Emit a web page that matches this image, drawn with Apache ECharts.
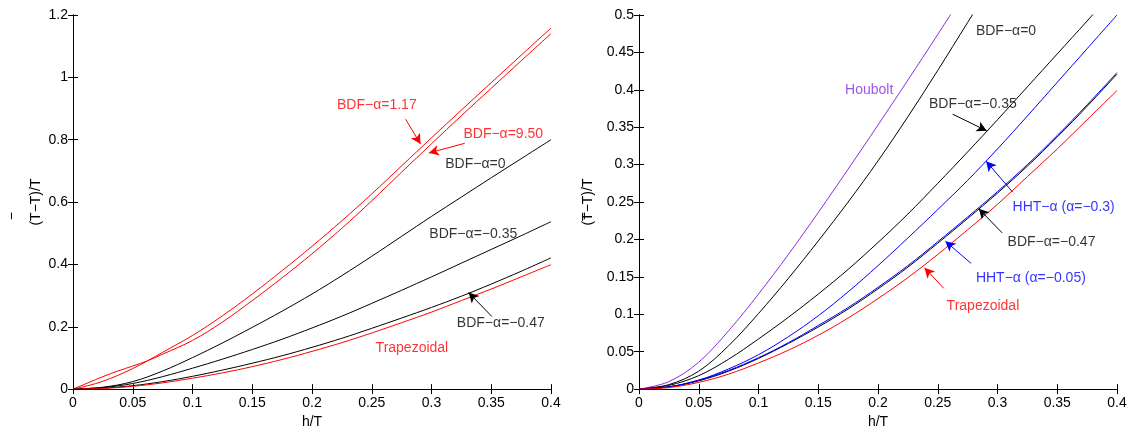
<!DOCTYPE html>
<html>
<head>
<meta charset="utf-8">
<script src="https://cdn.jsdelivr.net/npm/echarts@6/dist/echarts.min.js"></script>
<style>html,body{margin:0;padding:0;background:#fff}#c{width:1131px;height:434px}</style>
</head>
<body>
<div id="c"></div>
<script>
// ---- data ----
const xs = [0,0.025,0.05,0.075,0.1,0.125,0.15,0.175,0.2,0.225,0.25,0.275,0.3,0.325,0.35,0.375,0.4];
const bdf0   = [0,0.006,0.024,0.058,0.101,0.148,0.198,0.250,0.305,0.364,0.426,0.490,0.554,0.616,0.678,0.739,0.800];
const bdf035 = [0,0.005,0.018,0.040,0.067,0.096,0.127,0.160,0.196,0.234,0.275,0.317,0.360,0.404,0.448,0.492,0.537];
const bdf047 = [0,0.003,0.011,0.024,0.041,0.061,0.083,0.107,0.134,0.163,0.195,0.228,0.262,0.298,0.337,0.378,0.421];
const trap   = [0,0.002,0.009,0.020,0.035,0.052,0.072,0.095,0.121,0.149,0.180,0.213,0.247,0.284,0.321,0.360,0.399];
const hht03  = [0,0.003,0.012,0.027,0.046,0.070,0.098,0.130,0.165,0.202,0.240,0.279,0.321,0.365,0.410,0.455,0.500];
const hht005 = [0,0.003,0.012,0.025,0.042,0.062,0.085,0.109,0.136,0.165,0.197,0.230,0.264,0.300,0.339,0.380,0.423];
const xsHoubolt = [0,0.025,0.05,0.075,0.1,0.125,0.15,0.175,0.2,0.225,0.25,0.275];
const houbolt = [0,0.010,0.036,0.078,0.127,0.180,0.236,0.294,0.353,0.413,0.474,0.536];
const xsRed = [0,0.0125,0.025,0.0375,0.05,0.0625,0.075,0.1,0.125,0.15,0.175,0.2,0.225,0.25,0.275,0.3,0.325,0.35,0.375,0.4];
const bdf117 = [0,0.011,0.025,0.044,0.066,0.091,0.118,0.172,0.235,0.305,0.380,0.458,0.540,0.626,0.716,0.806,0.895,0.983,1.071,1.158];
const bdf950 = [0,0.020,0.040,0.058,0.074,0.091,0.112,0.156,0.215,0.284,0.357,0.434,0.516,0.604,0.696,0.787,0.877,0.965,1.053,1.140];

const xTicks = {min:0, max:0.4, interval:0.05};
const yTicksLeft = {min:0, max:1.2, interval:0.2};
const yTicksRight = {min:0, max:0.5, interval:0.05};

// ---- annotations (data coordinates) ----
const RED='#ff0000', BLACK='#000000', BLUE='#0000ff', PURPLE='#8a2be2';
const leftLabels = [
  ['BDF\u2212\u03b1=1.17', 0.2205, 0.9106, RED],
  ['BDF\u2212\u03b1=9.50', 0.3263, 0.8181, RED],
  ['BDF\u2212\u03b1=0', 0.3111, 0.7201, BLACK],
  ['BDF\u2212\u03b1=\u22120.35', 0.2978, 0.4966, BLACK],
  ['BDF\u2212\u03b1=\u22120.47', 0.3208, 0.2116, BLACK],
  ['Trapezoidal', 0.2528, 0.1318, RED]
];
const leftArrows = [
  [0.2783,0.8659,0.2908,0.7861,RED],
  [0.3278,0.7884,0.2978,0.7574,RED],
  [0.3505,0.2330,0.3311,0.3096,BLACK]
];
const rightLabels = [
  ['Houbolt', 0.1720, 0.3993, PURPLE],
  ['BDF\u2212\u03b1=0', 0.2815, 0.4782, BLACK],
  ['BDF\u2212\u03b1=\u22120.35', 0.2422, 0.3803, BLACK],
  ['HHT\u2212\u03b1 (\u03b1=\u22120.3)', 0.3122, 0.2434, BLUE],
  ['BDF\u2212\u03b1=\u22120.47', 0.3080, 0.1968, BLACK],
  ['HHT\u2212\u03b1 (\u03b1=\u22120.05)', 0.2815, 0.1480, BLUE],
  ['Trapezoidal', 0.2570, 0.1112, RED]
];
const rightArrows = [
  [0.2625,0.3674,0.2910,0.3452,BLACK],
  [0.3127,0.2633,0.2905,0.3045,BLUE],
  [0.3039,0.2088,0.2843,0.2411,BLACK],
  [0.2779,0.1680,0.2564,0.1976,BLUE],
  [0.2550,0.1347,0.2389,0.1622,RED]
];

// ---- build chart ----
const FONT = 'Liberation Sans, Arial, sans-serif';
const fmt = v => String(parseFloat(v.toFixed(3)));
function pairs(x, y){ return y.map((v,i)=>[x[i], v]); }
function line(x, y, color, gi){
  return {type:'line', xAxisIndex:gi*2, yAxisIndex:gi*2, data:pairs(x,y), smooth:0.35,
    symbol:'none', showSymbol:false, lineStyle:{color:color, width:1}, itemStyle:{color:color},
    silent:true, animation:false, clip:true, z:2};
}
function annot(labels, arrows, gi){
  return {type:'scatter', xAxisIndex:gi*2, yAxisIndex:gi*2, symbolSize:1, silent:true, animation:false,
    itemStyle:{color:'rgba(0,0,0,0)'}, z:5,
    data: labels.map(l=>({value:[l[1],l[2]], label:{show:true, position:'right', distance:0,
      formatter:l[0], color:l[3], fontFamily:FONT, fontSize:14}})),
    markLine:{silent:true, animation:false, symbol:['none','arrow'], symbolSize:[8,10],
      label:{show:false},
      data: arrows.map(a=>[{coord:[a[0],a[1]], lineStyle:{color:a[4], width:1, type:'solid'}, itemStyle:{color:a[4]}},
                           {coord:[a[2],a[3]], itemStyle:{color:a[4]}}])}
  };
}
const axisCommon = {axisLine:{show:true, lineStyle:{color:'#000', width:1}}, splitLine:{show:false},
  axisTick:{show:true, inside:true, length:5, lineStyle:{color:'#000'}},
  axisLabel:{color:'#000', fontFamily:FONT, fontSize:14, formatter:fmt}};
function xAx(gi, pos){
  return Object.assign({}, axisCommon, {type:'value', gridIndex:gi, position:pos}, xTicks,
    pos==='bottom' ? {name:'h/T', nameLocation:'middle', nameGap:24,
      nameTextStyle:{color:'#000', fontFamily:FONT, fontSize:14},
      axisLabel:Object.assign({}, axisCommon.axisLabel, {margin:7})}
    : {axisLabel:{show:false}});
}
function yAx(gi, pos, ticks, gap){
  return Object.assign({}, axisCommon, {type:'value', gridIndex:gi, position:pos}, ticks,
    pos==='left' ? {name:'(T\u2212T)/T', nameLocation:'middle', nameGap:gap, nameRotate:90,
      nameTextStyle:{color:'#000', fontFamily:FONT, fontSize:14},
      axisLabel:Object.assign({}, axisCommon.axisLabel, {margin:5})}
    : {axisLabel:{show:false}});
}

const chart = echarts.init(document.getElementById('c'), null, {renderer:'canvas'});
chart.setOption({
  animation:false,
  backgroundColor:'#fff',
  grid:[{left:73, top:15, width:478, height:376},{left:639, top:15, width:478, height:376}],
  xAxis:[xAx(0,'bottom'), xAx(0,'top'), xAx(1,'bottom'), xAx(1,'top')],
  yAxis:[yAx(0,'left',yTicksLeft,30), yAx(0,'right',yTicksLeft), yAx(1,'left',yTicksRight,44), yAx(1,'right',yTicksRight)],
  graphic:[
    {type:'text', left:5, top:212, rotation:Math.PI/2, style:{text:'\u2212', fill:'#000', font:'14px '+FONT}},
    {type:'text', left:578, top:212, rotation:Math.PI/2, style:{text:'\u2212', fill:'#000', font:'14px '+FONT}}
  ],
  series:[
    line(xsRed, bdf117, RED, 0),
    line(xsRed, bdf950, RED, 0),
    line(xs, bdf0, BLACK, 0),
    line(xs, bdf035, BLACK, 0),
    line(xs, bdf047, BLACK, 0),
    line(xs, trap, RED, 0),
    annot(leftLabels, leftArrows, 0),
    line(xsHoubolt, houbolt, PURPLE, 1),
    line(xs, bdf0, BLACK, 1),
    line(xs, bdf035, BLACK, 1),
    line(xs, hht03, BLUE, 1),
    line(xs, bdf047, BLACK, 1),
    line(xs, hht005, BLUE, 1),
    line(xs, trap, RED, 1),
    annot(rightLabels, rightArrows, 1)
  ]
});
</script>
</body>
</html>
